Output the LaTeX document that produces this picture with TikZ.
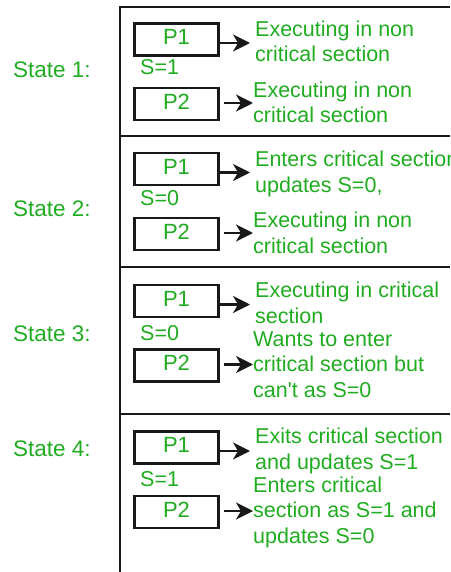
\documentclass[tikz,border=0pt]{standalone}
\usepackage{fontspec}
\setmainfont{Liberation Sans}
\usetikzlibrary{arrows.meta}
\definecolor{txtgreen}{RGB}{32,172,32}
\definecolor{framecol}{RGB}{25,25,25}
\begin{document}
\begin{tikzpicture}[x=1pt,y=-1pt,
  frameline/.style={draw=framecol,line width=2.6pt},
  pbox/.style={draw=framecol,line width=2.4pt,minimum width=84pt,minimum height=32pt,inner sep=0pt,text depth=5pt,text=txtgreen,font=\fontsize{22}{26}\selectfont},
  desc/.style={anchor=base west,inner sep=0pt,align=left,text=txtgreen,font=\fontsize{21.5}{25.5}\selectfont},
  slabel/.style={anchor=base west,inner sep=0pt,text=txtgreen,font=\fontsize{21.5}{26}\selectfont},
  statelabel/.style={anchor=base west,inner sep=0pt,text=txtgreen,font=\fontsize{22.5}{26}\selectfont},
  arr/.style={-{Stealth[length=17pt,width=17pt,inset=5pt]},draw=framecol,line width=2.4pt},
]
\useasboundingbox (0,0) rectangle (450,572);
% frame
\coordinate (ftl) at (120,7);
\coordinate (ftr) at (450,7);
\coordinate (fbl) at (120,572);
\draw[frameline] (ftr) -- (ftl) -- (fbl);
\coordinate (s1l) at (120,136);
\coordinate (s1r) at (450,136);
\coordinate (s2l) at (120,267);
\coordinate (s2r) at (450,267);
\coordinate (s3l) at (120,414);
\coordinate (s3r) at (450,414);
\draw[frameline] (s1l) -- (s1r);
\draw[frameline] (s2l) -- (s2r);
\draw[frameline] (s3l) -- (s3r);
% state labels
\node[statelabel] (st1) at (13,78) {State 1:};
\node[statelabel] (st2) at (13,216) {State 2:};
\node[statelabel] (st3) at (13,341) {State 3:};
\node[statelabel] (st4) at (13,456) {State 4:};
% state 1
\node[pbox] (p1a) at (176.5,39.5) {P1};
\node[pbox] (p2a) at (176.5,104) {P2};
\node[slabel] (sa) at (140,75) {S=1};
\node[desc] (t1a) at (255,62) {Executing in non\\critical section};
\node[desc] (t2a) at (253,123) {Executing in non\\critical section};
% state 2
\node[pbox] (p1b) at (176.5,169) {P1};
\node[pbox] (p2b) at (176.5,234) {P2};
\node[slabel] (sb) at (140,205) {S=0};
\node[desc] (t1b) at (255,192) {Enters critical section\\updates S=0,};
\node[desc] (t2b) at (253,253) {Executing in non\\critical section};
% state 3
\node[pbox] (p1c) at (176.5,301) {P1};
\node[pbox] (p2c) at (176.5,365.5) {P2};
\node[slabel] (sc) at (140,340) {S=0};
\node[desc] (t1c) at (255,323) {Executing in critical\\section};
\node[desc] (t2c) at (253,397) {Wants to enter\\critical section but\\can\textquotesingle t as S=0};
% state 4
\node[pbox] (p1d) at (176.5,447.5) {P1};
\node[pbox] (p2d) at (176.5,512) {P2};
\node[slabel] (sd) at (140,486) {S=1};
\node[desc] (t1d) at (255,469) {Exits critical section\\and updates S=1};
\node[desc] (t2d) at (253,543) {Enters critical\\section as S=1 and\\updates S=0};
% arrows
\foreach \s in {a,b,c,d}{
  \draw[arr,shorten >=5pt] ([yshift=-3.5pt]p1\s.east) -- ([yshift=-3.5pt]p1\s.east -| t1\s.west);
  \draw[arr] ([xshift=4pt,yshift=1pt]p2\s.east) -- ([yshift=1pt]p2\s.east -| t2\s.west);
}
\end{tikzpicture}
\end{document}
